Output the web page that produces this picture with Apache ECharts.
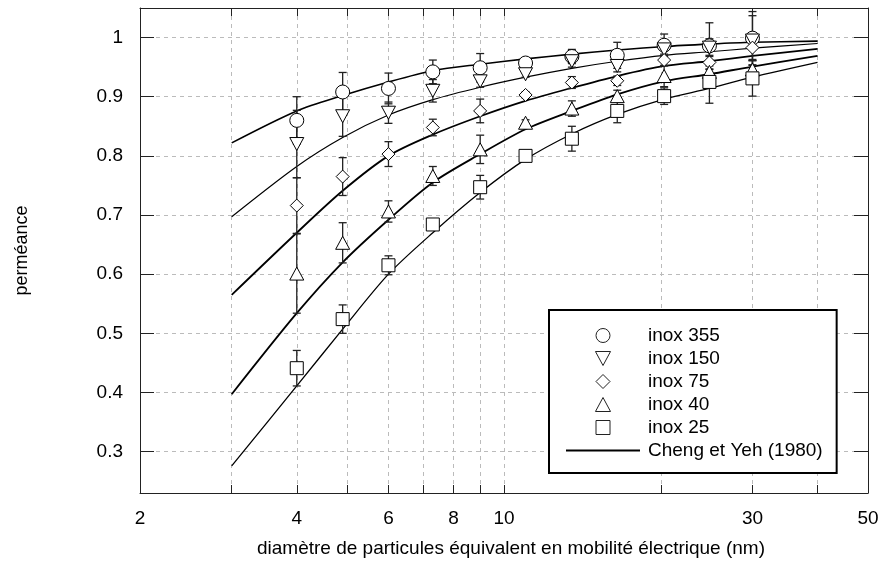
<!DOCTYPE html>
<html><head><meta charset="utf-8">
<script src="https://cdn.jsdelivr.net/npm/echarts@6/dist/echarts.min.js"></script>
<style>html,body{margin:0;padding:0;background:#fff}#c{width:882px;height:579px}</style>
</head><body><div id="c"></div>
<script>
// ---- data ----
const diameters = [4, 4.9, 6, 7.3, 9, 11, 13.5, 16.5, 20.3, 24.8, 30];
const inox355 = [0.860, 0.908, 0.914, 0.942, 0.949, 0.957, 0.968, 0.970, 0.987, 0.986, 0.999];
const err355  = [0.040, 0.033, 0.026, 0.020, 0.024, 0.005, 0.012, 0.022, 0.019, 0.039, 0.045];
const inox150 = [0.820, 0.867, 0.873, 0.910, 0.926, 0.938, 0.960, 0.952, 0.980, 0.983, 0.995];
const err150  = [0.057, 0.034, 0.018, 0.019, 0.010, 0.005, 0.010, 0.010, 0.010, 0.015, 0.042];
const inox75  = [0.716, 0.765, 0.803, 0.848, 0.876, 0.903, 0.924, 0.927, 0.962, 0.958, 0.983];
const err75   = [0.047, 0.032, 0.021, 0.014, 0.020, 0.005, 0.010, 0.008, 0.010, 0.012, 0.020];
const inox40  = [0.601, 0.653, 0.706, 0.766, 0.811, 0.856, 0.880, 0.901, 0.935, 0.942, 0.946];
const err40   = [0.067, 0.034, 0.018, 0.016, 0.024, 0.005, 0.013, 0.010, 0.018, 0.010, 0.015];
const inox25  = [0.441, 0.524, 0.615, 0.684, 0.747, 0.800, 0.829, 0.876, 0.901, 0.925, 0.931];
const err25   = [0.030, 0.024, 0.016, 0.005, 0.020, 0.005, 0.021, 0.020, 0.014, 0.036, 0.030];

const curveX   = [3, 4, 4.9, 6, 7.3, 9, 11, 13.5, 16.5, 20.3, 24.8, 30, 40];
const curve355 = [0.822, 0.876, 0.902, 0.925, 0.944, 0.955, 0.964, 0.972, 0.979, 0.985, 0.989, 0.992, 0.994];
const curve150 = [0.697, 0.782, 0.831, 0.869, 0.895, 0.916, 0.933, 0.948, 0.960, 0.970, 0.976, 0.982, 0.990];
const curve75  = [0.565, 0.670, 0.741, 0.800, 0.836, 0.867, 0.893, 0.915, 0.935, 0.952, 0.960, 0.969, 0.981];
const curve40  = [0.397, 0.534, 0.620, 0.692, 0.755, 0.803, 0.845, 0.876, 0.904, 0.926, 0.938, 0.951, 0.969];
const curve25  = [0.276, 0.411, 0.507, 0.600, 0.670, 0.738, 0.794, 0.837, 0.870, 0.896, 0.914, 0.933, 0.958];

const xTickValues  = [2, 3, 4, 5, 6, 7, 8, 9, 10, 20, 30, 40, 50];
const xLabelValues = [2, 4, 6, 8, 10, 30, 50];
const yTickValues  = [0.3, 0.4, 0.5, 0.6, 0.7, 0.8, 0.9, 1];

const seriesNames = ['inox 355', 'inox 150', 'inox 75', 'inox 40', 'inox 25'];
const curveName = 'Cheng et Yeh (1980)';

// ---- build ----
const FONT = 'Liberation Sans, Arial, Helvetica, sans-serif';
const X_MIN = 2, X_MAX = 50, Y_MIN = 0.23, Y_MAX = 1.05;
const lg = v => Math.log10(v);
const pts = arr => diameters.map((d, i) => [d, arr[i]]);
const cpts = arr => curveX.map((d, i) => [d, arr[i]]);
const bars = (vals, errs) => diameters.map((d, i) => [d, vals[i] - errs[i], vals[i] + errs[i]]);

const values = [inox355, inox150, inox75, inox40, inox25];
const errors = [err355, err150, err75, err40, err25];
const curves = [curve355, curve150, curve75, curve40, curve25];
const curveWidths = [1.6, 1.2, 1.8, 1.8, 1.3];
const symbols = [
  'circle',
  'path://M0,0L14,0L7,13Z',
  'path://M7,0L14,7L7,14L0,7Z',
  'path://M7,0L14,13L0,13Z',
  'path://M0,0L14,0L14,14L0,14Z'
];
const symbolSizes = [14, 14, 13, 14, 13];

let errData = [];
errors.forEach((e, k) => { errData = errData.concat(bars(values[k], e)); });

const series = [];
curves.forEach((c, k) => {
  series.push({
    name: curveName, type: 'line', xAxisIndex: 0, yAxisIndex: 0,
    data: cpts(c), symbol: 'none', showSymbol: false, smooth: 0.3, z: 2,
    itemStyle: { color: '#000' },
    lineStyle: { color: '#000', width: curveWidths[k] }, silent: true
  });
});
series.push({
  type: 'custom', xAxisIndex: 0, yAxisIndex: 0, z: 3, silent: true,
  data: errData, encode: { x: 0, y: [1, 2] },
  renderItem: (params, api) => {
    const x = api.value(0);
    const p1 = api.coord([x, api.value(1)]);
    const p2 = api.coord([x, api.value(2)]);
    const w = 4;
    const st = { stroke: '#222', lineWidth: 1.3 };
    return { type: 'group', children: [
      { type: 'line', shape: { x1: p1[0], y1: p1[1], x2: p2[0], y2: p2[1] }, style: st },
      { type: 'line', shape: { x1: p1[0] - w, y1: p1[1], x2: p1[0] + w, y2: p1[1] }, style: st },
      { type: 'line', shape: { x1: p2[0] - w, y1: p2[1], x2: p2[0] + w, y2: p2[1] }, style: st }
    ]};
  }
});
values.forEach((v, k) => {
  series.push({
    name: seriesNames[k], type: 'scatter', xAxisIndex: 0, yAxisIndex: 0, z: 4,
    data: pts(v), symbol: symbols[k], symbolSize: symbolSizes[k], symbolKeepAspect: true,
    itemStyle: { color: '#fff', borderColor: '#000', borderWidth: 1, opacity: 1 }
  });
});

const legendData = seriesNames.map(n => ({ name: n, itemStyle: { color: '#fff', borderColor: '#222', borderWidth: 1 } }));
legendData.push({ name: curveName, icon: 'path://M0,0L74,0L74,2L0,2Z', itemStyle: { color: '#000', borderWidth: 0 } });

const axisLine = { show: true, lineStyle: { color: '#222', width: 1 } };
const option = {
  animation: false,
  backgroundColor: '#fff',
  textStyle: { fontFamily: FONT },
  grid: { left: 140, right: 14, top: 8, bottom: 86, containLabel: false },
  xAxis: [
    { type: 'log', logBase: 10, min: X_MIN, max: X_MAX, show: false },
    { type: 'value', min: lg(X_MIN), max: lg(X_MAX), position: 'bottom',
      axisLine: axisLine,
      axisTick: { show: true, inside: true, length: 8, customValues: xTickValues.map(lg), lineStyle: { color: '#222' } },
      axisLabel: { customValues: xLabelValues.map(lg), formatter: v => String(Math.round(Math.pow(10, v))),
        fontSize: 19, color: '#000', margin: 16, fontFamily: FONT },
      splitLine: { show: true, lineStyle: { color: '#bbb', type: [4, 4], width: 1 } },
      name: 'diamètre de particules équivalent en mobilité électrique (nm)',
      nameLocation: 'middle', nameGap: 46,
      nameTextStyle: { fontSize: 19, color: '#000', fontFamily: FONT, padding: [0, 0, 0, 14] }
    },
    { type: 'value', min: lg(X_MIN), max: lg(X_MAX), position: 'top',
      axisLine: axisLine,
      axisTick: { show: true, inside: true, length: 8, customValues: xTickValues.map(lg), lineStyle: { color: '#222' } },
      axisLabel: { show: false }, splitLine: { show: false }
    }
  ],
  yAxis: [
    { type: 'value', min: Y_MIN, max: Y_MAX, position: 'left',
      axisLine: axisLine,
      axisTick: { show: true, inside: true, length: 14, customValues: yTickValues, lineStyle: { color: '#222' } },
      axisLabel: { customValues: yTickValues, formatter: v => String(+v.toFixed(2)),
        fontSize: 19, color: '#000', margin: 17, fontFamily: FONT },
      splitLine: { show: true, lineStyle: { color: '#bbb', type: [4, 4], width: 1 } },
      name: 'perméance', nameLocation: 'middle', nameGap: 109,
      nameTextStyle: { fontSize: 18, color: '#000', fontFamily: FONT }
    },
    { type: 'value', min: Y_MIN, max: Y_MAX, position: 'right',
      axisLine: axisLine,
      axisTick: { show: true, inside: true, length: 14, customValues: yTickValues, lineStyle: { color: '#222' } },
      axisLabel: { show: false }, splitLine: { show: false }
    }
  ],
  legend: {
    data: legendData,
    orient: 'vertical', left: 549, top: 310,
    itemWidth: 74, itemHeight: 14, itemGap: 4,
    padding: [16, 14, 13, 17],
    borderColor: '#000', borderWidth: 2, backgroundColor: '#fff',
    textStyle: { fontSize: 19, color: '#000', fontFamily: FONT, padding: [0, 0, 0, 3] },
    symbolKeepAspect: true,
    selectedMode: false
  },
  series: series
};
const chart = echarts.init(document.getElementById('c'), null, { renderer: 'canvas' });
chart.setOption(option);
</script></body></html>
